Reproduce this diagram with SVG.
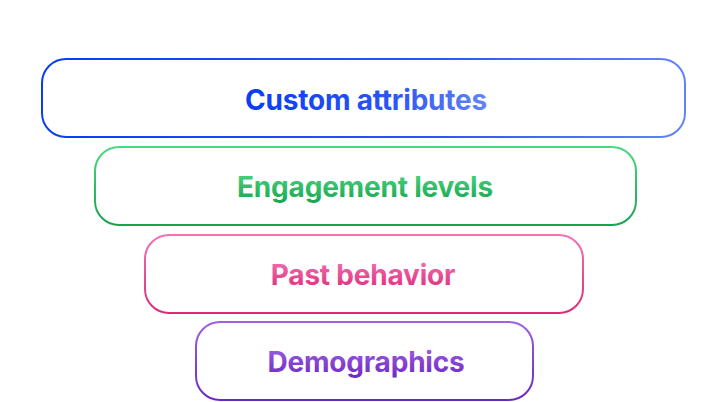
<svg xmlns="http://www.w3.org/2000/svg" width="726" height="402" viewBox="0 0 726 402">
<defs>
<linearGradient id="gBlue" x1="0" y1="0" x2="1" y2="0"><stop offset="0" stop-color="#0a3df2"/><stop offset="0.6" stop-color="#2a55f3"/><stop offset="1" stop-color="#6484f6"/></linearGradient>
<linearGradient id="gGreen" x1="0" y1="0" x2="0" y2="1"><stop offset="0" stop-color="#4dd882"/><stop offset="1" stop-color="#17a34f"/></linearGradient>
<linearGradient id="gPink" x1="0" y1="0" x2="0" y2="1"><stop offset="0" stop-color="#f274b4"/><stop offset="1" stop-color="#dc2a78"/></linearGradient>
<linearGradient id="gPurple" x1="0" y1="0" x2="0" y2="1"><stop offset="0" stop-color="#a060e2"/><stop offset="1" stop-color="#6b28c4"/></linearGradient>
</defs>
<style>
.box{fill:#fff;stroke-width:2}
.lbl{font-family:Inter,"Noto Sans",sans-serif;font-weight:700;font-size:28px;text-anchor:middle;letter-spacing:-0.2px}
</style>
<rect width="726" height="402" fill="#fff"/>
<g id="custom-attributes">
<rect class="box" x="42" y="59" width="643" height="78" rx="24" stroke="url(#gBlue)"/>
<text class="lbl" x="366" y="110" fill="url(#gBlue)">Custom attributes</text>
</g>
<g id="engagement-levels">
<rect class="box" x="95" y="147" width="541" height="78" rx="24" stroke="url(#gGreen)"/>
<text class="lbl" x="365" y="197" fill="url(#gGreen)">Engagement levels</text>
</g>
<g id="past-behavior">
<rect class="box" x="145" y="235" width="438" height="78" rx="24" stroke="url(#gPink)"/>
<text class="lbl" x="363" y="285" fill="url(#gPink)">Past behavior</text>
</g>
<g id="demographics">
<rect class="box" x="196" y="322" width="337" height="78" rx="24" stroke="url(#gPurple)"/>
<text class="lbl" x="366" y="372" fill="url(#gPurple)">Demographics</text>
</g>
<g id="connectors"/>
</svg>
